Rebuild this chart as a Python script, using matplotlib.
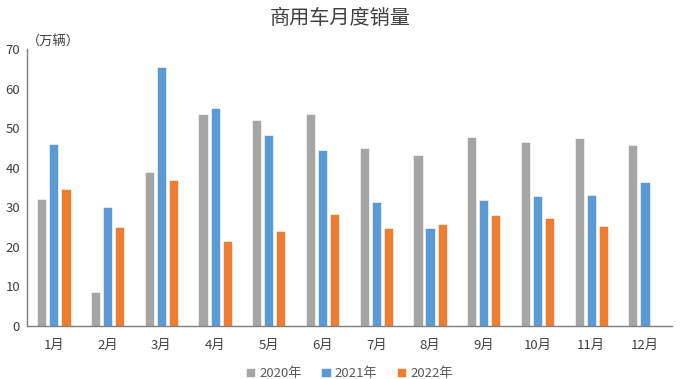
import matplotlib
matplotlib.use("Agg")
import matplotlib.pyplot as plt
import numpy as np

plt.rcParams['font.family'] = ['Noto Sans CJK SC', 'DejaVu Sans']

months = ["1月", "2月", "3月", "4月", "5月", "6月", "7月", "8月", "9月", "10月", "11月", "12月"]
s2020 = [32.0, 8.5, 39.0, 53.5, 52.0, 53.7, 45.0, 43.2, 47.8, 46.5, 47.4, 45.7]
s2021 = [46.0, 30.0, 65.5, 55.0, 48.3, 44.6, 31.3, 24.7, 31.8, 32.8, 33.1, 36.5]
s2022 = [34.5, 25.0, 37.0, 21.5, 24.0, 28.2, 24.7, 25.8, 28.0, 27.3, 25.4]
series = [("2020年", s2020, "#A5A5A5"), ("2021年", s2021, "#5B9BD5"), ("2022年", s2022, "#ED7D31")]

fig = plt.figure(figsize=(6.8, 3.79), dpi=100)
ax = fig.add_axes([0.0397, 0.1398, 0.9483, 0.7309])

x = np.arange(len(months))
w = 0.17
step = 0.225
for i, (name, vals, col) in enumerate(series):
    xs = x[:len(vals)] + (i - 1) * step
    ax.bar(xs, vals, width=w, color=col, edgecolor="#FFFFFF", linewidth=0.4, label=name)

ax.set_xlim(-0.5, len(months) - 0.5)
ax.set_ylim(0, 70)
ax.set_yticks(range(0, 71, 10))
ax.set_xticks(x)
ax.set_xticklabels(months)
for sp in ["top", "right"]:
    ax.spines[sp].set_visible(False)
for sp in ["left", "bottom"]:
    ax.spines[sp].set_color("#7F7F7F")
    ax.spines[sp].set_linewidth(1.0)
ax.tick_params(axis="both", length=0, labelsize=9.5, colors="#404040", pad=5)
ax.tick_params(axis="x", pad=9)

fig.text(0.5, 0.952, "商用车月度销量", ha="center", va="center", fontsize=14.5, color="#404040")
fig.text(0.04, 0.889, "（万辆）", ha="left", va="center", fontsize=9.5, color="#404040")

leg = ax.legend(loc="upper center", bbox_to_anchor=(0.5, -0.105), ncol=3, frameon=False,
                fontsize=9.5, handlelength=0.7, handleheight=0.7, handletextpad=0.3, columnspacing=1.5)
for t in leg.get_texts():
    t.set_color("#595959")

fig.savefig("out.png", dpi=100)
